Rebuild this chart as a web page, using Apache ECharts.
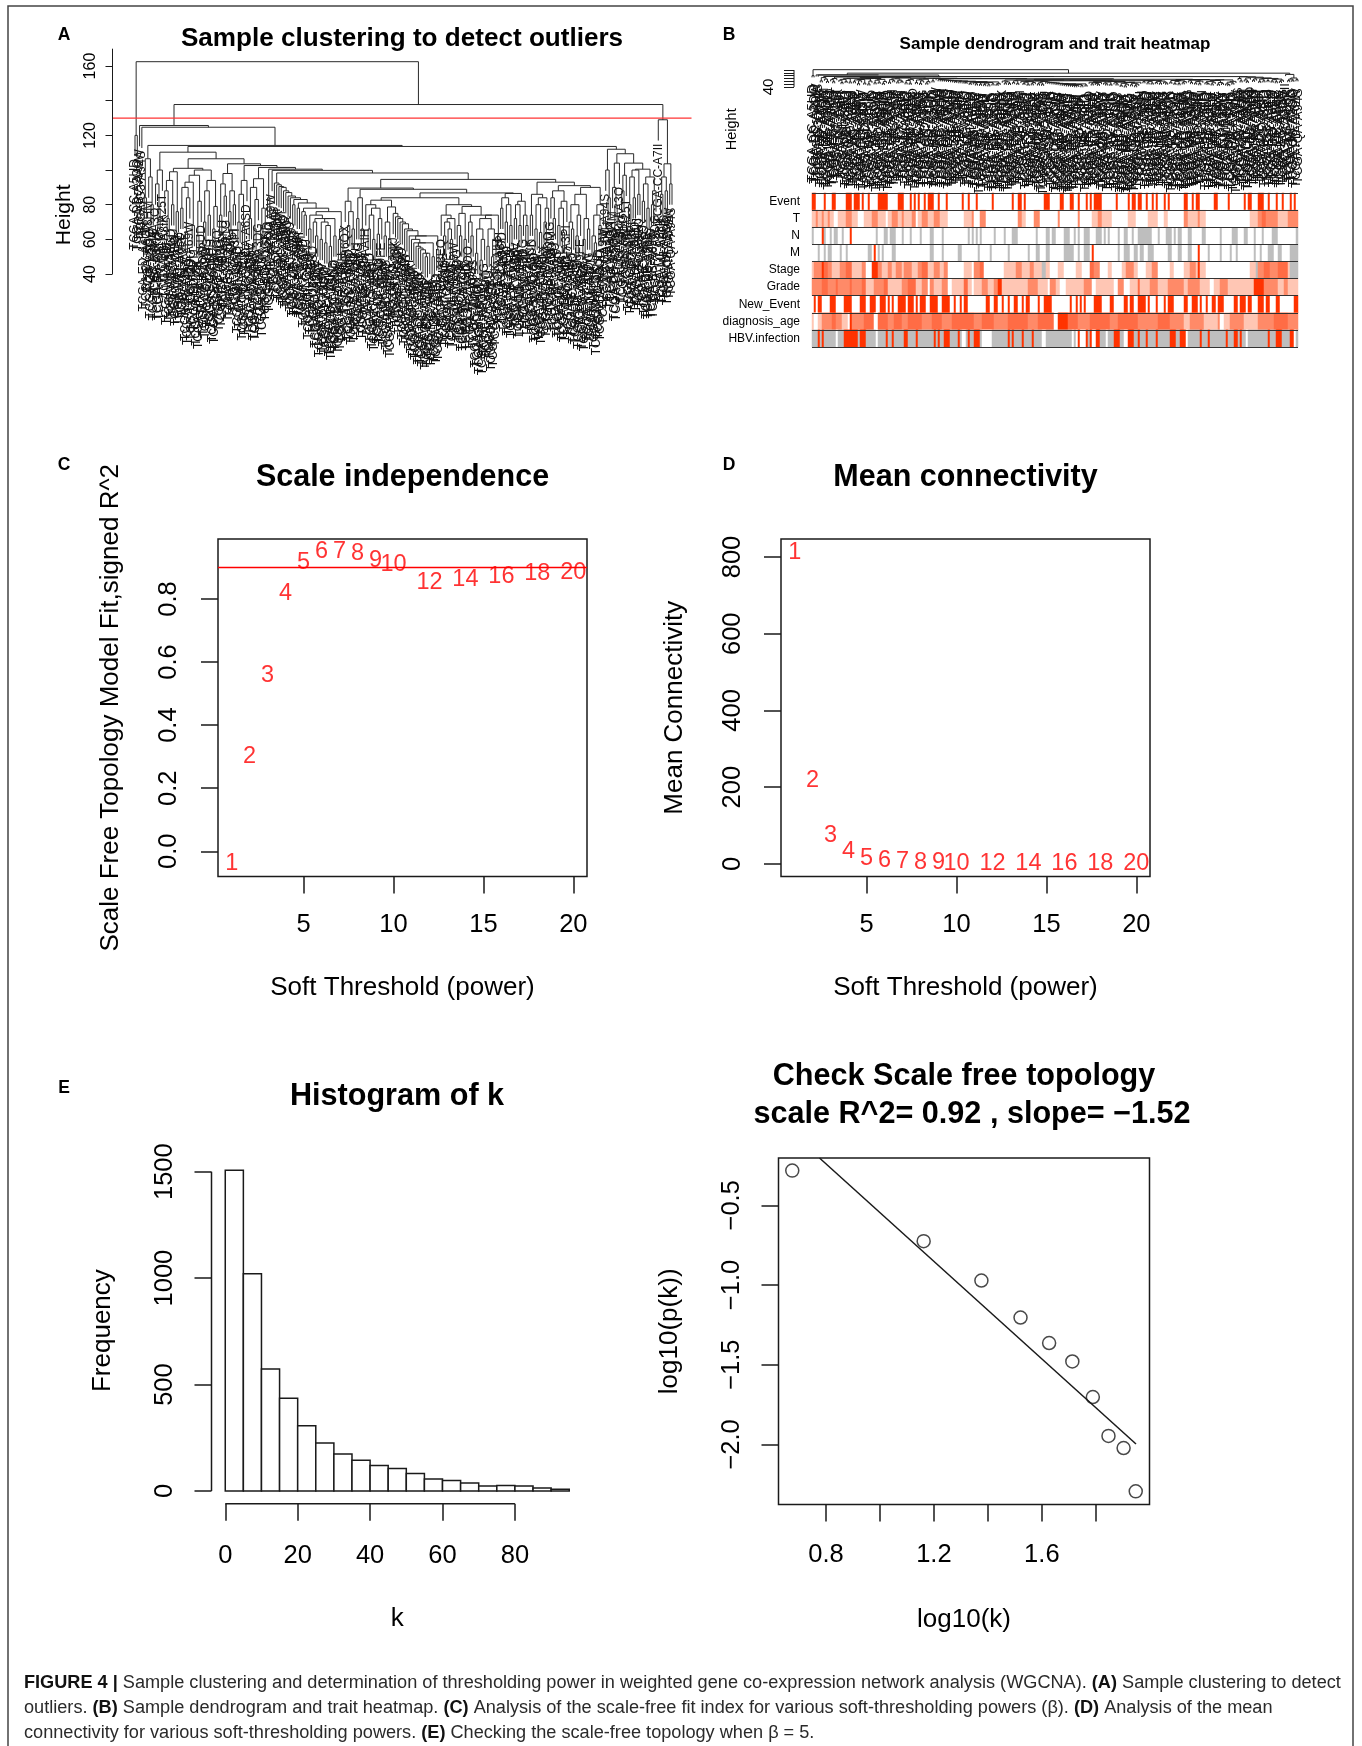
<!DOCTYPE html>
<html><head><meta charset="utf-8">
<style>html,body{margin:0;padding:0;background:#fff}#c{width:1362px;height:1746px}</style>
<script src="https://cdn.jsdelivr.net/npm/echarts@6/dist/echarts.min.js"></script>
</head><body><div id="c"></div>
<script>
// ---------- Panel C / D ----------
const powers = [1,2,3,4,5,6,7,8,9,10,12,14,16,18,20];
const fitR2 = [-0.04,0.30,0.556,0.816,0.914,0.949,0.95,0.944,0.921,0.91,0.852,0.863,0.87,0.88,0.885];
const meanK = [813,216,75,32,15,8,5,3.5,2.5,2,1,0.6,0.4,0.3,0.2];
const r2Cut = 0.9;
// ---------- Panel E left ----------
const binEdges = [0,5,10,15,20,25,30,35,40,45,50,55,60,65,70,75,80,85,90,95];
const binCounts = [1507,1021,573,436,307,226,174,144,120,106,82,57,50,38,24,26,24,14,8];
// ---------- Panel E right ----------
const logK = [0.675,1.162,1.376,1.521,1.627,1.713,1.789,1.847,1.903,1.948];
const logPk = [-0.282,-0.725,-0.972,-1.204,-1.364,-1.48,-1.703,-1.947,-2.023,-2.295];
const fitLine = [[0.776,-0.203],[1.949,-1.998]];
// ---------- Panel A / B dendrogram: merge height between each pair of neighbouring leaves ----------
const adjHeights = [
 120,162.5,125.7,124.7,84,106.5,96,80, 114.2,
 92,78,100, 110.3,
 88,72,94,80,99,76, 101,
 78,90,64,84,93,68,97,62,82,100,70,88,74,94,66,79, 106.5,
 74,92,85,98,76,88,80, 103.6,
 70,86,67,94, 102.6,
 72,90,66,83,95,68,78, 101.5,
 84, 100.5, 99.8,
 92.5,91.5,90.5,90,88,87,85,84,80,83,78,81,76,74,78,66,74,70,62,72,60,70,58,68,56,72,62,76,60,66, 98.3,
 82,68,76,66, 89.6,
 72,84,66, 88.9,
 80,66,74,60,78,63,72, 82.6,
 62,70,60, 78.7,
 75,73,72,70,69,66,65,62,60,58,56,55,54,52,50,52,58,50,62,54, 84,
 74,62,70,66,60,72,80,68,62,75,60,79,70,62,74,52,66,48,60,72,56,66,50,60,74, 86.8,
 78,84,70,80,68, 86.5,
 72,80,68,82,74,68, 94.6,
 74,86,66,80,64,84,70,78, 93,
 84,72,88,68,78,64,82,91,70,66,80,62,74,86,60,72,66,90,62,58,74,68,80, 113.6,
 100,84, 112,
 90,80,104, 109.4,
 88,97, 104,
 80,96,84,100,86, 100.5,
 82,92,78,96,80,88, 137.8,
 129,
 86,96,88,103.6,92
];
const cutHeight = 130;
const tssCodes = ['CC','DD','BC','G3','ED','2Y','RC','ZP','UB','XR','ES','FV','K7','LG','MI','NI','O8','PD','QA','WQ','5C','T1','2V','4R','DD','CC','BD','GJ','HP','KR','YA'];
const idCodes = ['A5UD','A3DG','A9FE','A4NJ','A8IK','AA3O','A6QX','A2OO','A7IJ','A56V','A3EQ','AAIH','A5KU','A8HM','AA9W','A28K','A4AG','A7L9','A3PI','AA1G','A5OQ','A94S','A1CK','A69W','A6SD','A8GD','A25T','A3MG','A1HH'];
// ---------- Panel B trait heatmap: colour-run change points read along each strip (left crop | right crop) ----------
const traitNames = ['Event','T','N','M','Stage','Grade','New_Event','diagnosis_age','HBV.infection'];
const eventRuns = "10r 22w 47r 56w 72r 85w 113r 130w 140r 155w 160r 170w 183r 187w 208r 238w 270r 280w 283r 287w 308r 312w 318r 325w 332r 338w 346r 353w 362r 378w 390r 395w 415r 423w 462r 468w 478r 485w 507r 510w 552r 560w 568r 572w 582r 585w 610r 618w 632r 640w 650r 655w 676r 680w 706r 718w 722r 728w|8r 18w 40r 48w 65r 68w 86r 95w 100r 105w 113r 120w 124r 132w 178r 183w 198r 203w 210r 216w 225r 235w 243r 252w 268r 272w 283r 290w 296r 302w 322r 326w 333r 338w 348r 352w 378r 392w 402r 408w 414r 426w 472r 480w 513r 520w 562r 567w 575r 582w 600r 612w 616r 622w 630r 640w 655r 662w 675r 680w 698r 704w 710r 716w";
const tRuns = "10l 22m 28l 40m 46l 60m 68l 76w 90l 113m 135l 150w 170l 195m 210l 235w 238l 255m 268l 280m 290l 310m 322w 330l 345m 358l 380m 395l 420w 470l 490m 500w 515m 532w 630m 640l 655w 680m 695w|5m 10w 60m 70w 105l 120m 135l 165w 215l 235w 275l 300m 305w 320l 335w 380m 395l 420m 430l 445w 580l 600m 615s 625m 660l 690m 720w";
const nRuns = "12g 20w 42r 46w 50g 56w 65g 72w 78g 88w 100g 108w 125r 130w 166r 170w 205g 212w 230g 240w 248g 262w 282g 290w 305g 312w 335g 340w 365g 378w 405g 410w 430g 435w 460g 465w 478g 485w 492g 498w 505g 510w 518g 525w 560g 565w 590g 595w 615g 628w 685g 690w 715g 725w 735g 742w|20g 30w 35g 40w 50g 58w 65g 70w 82g 98w 115g 135w 140g 145w 155g 160w 180g 190w 198g 215w 225g 232w 245g 285w 305g 310w 325g 345w 350g 355w 360g 375w 395g 402w 435g 448w 488g 495w 525g 545w 560g 570w 590g 595w 615g 620w 645g 660w 690g 695w 718g 730w";
const mRuns = "16g 20w 30g 34w 48g 52w 60g 72w 95g 100w 116g 122w 183g 193w 200r 204w 212g 215w 222g 228w 250g 262w 368g 378w 403g 408w 430g 435w 452g 465w 490g 495w 510g 515w 545g 555w 580g 585w 600g 605w 628r 632w 660g 665w 685g 695w 715g 725w|20g 30w 35g 48w 62g 70w 80g 98w 102r 108w 180g 190w 198g 218w 232g 240w 250g 258w 270g 288w 335g 345w 360g 375w 395g 402w 422r 426w 450g 458w 490g 495w 520g 525w 535g 545w 590g 595w 610g 615w 630g 650w 665g 675w 700g 720w";
const stageRuns = "10l 20m 40r 48s 60m 75l 95m 115s 135l 160m 175w 195r 208m 225l 240m 250l 265m 285l 290m 310l 330m 345s 360l 378m 395l 410m 420w 470l 495w 500m 515s 530w 590l 625m 640w 645l 665m 680l 700g 712l 725w|5l 18w 58l 72w 100s 108m 130w 150l 165w 195l 205m 230l 245w 265l 285m 305w 340l 350w 380l 400m 415l 425r 430l 445w 580l 598g 605m 622s 640m 665s 690l 700g 720w";
const gradeRuns = "10m 40s 60m 85s 92m 125s 135m 160s 175l 200m 230s 240l 280m 300s 322l 345m 360w 365m 380l 400m 420w 430l 470s 480l 495w 500l 520m 540l 560m 570r 582l 630w 632l 660m 690l 720w 725m 745l|0l 10w 25l 80m 105w 115l 170w 185m 200w 220l 240s 250l 280m 300l 335m 380l 395m 430l 460w 470l 490m 510l 588r 620m 660l 680m 695l 725w";
const newEventRuns = "10r 14w 18r 26w 30r 34w 38r 42w 46r 50w 58r 62w 68r 84w 110r 135w 158r 172w 186r 202w 218r 232w 240r 245w 252r 258w 270r 295w 298r 318w 322r 330w 336r 342w 345r 352w 365r 388w 405r 428w 440r 445w 455r 460w 470r 478w 535r 545w 560r 572w 585r 590w 598r 606w 618r 628w 640r 648w 655r 668w 690r 695w 710r 720w 722r 730w|0r 5w 40r 46w 55r 60w 68r 75w 80r 88w 108r 120w 125r 135w 160r 170w 198r 210w 218r 232w 245r 265w 270r 280w 295r 305w 320r 325w 335r 352w 378r 395w 402r 420w 428r 435w 445r 450w 465r 478w 485r 500w 530r 545w 550r 565w 572r 582w 600r 618w 628r 640w 655r 670w 690r 695w 712r 725w";
const ageRuns = "10l 20w 30l 45m 70s 85m 100l 120w 125r 130m 170s 200w 208s 240m 260s 280m 300s 340m 370s 400m 430s 500m 520s 560m 600s 660m 690s 740w|0r 30s 60m 100s 160m 180s 240m 300s 340m 380l 400m 440l 480m 490w 500l 520m 560l 600m 650s 690m 720w";
const hbvRuns = "10g 16w 18g 28w 32r 36g 42r 48w 50g 58r 62g 85w 92g 110r 118g 122r 148g 158r 175g 205w 212g 232r 240g 250r 256g 290r 300g 325r 330g 378r 384g 392r 398g 410r 425g 448r 455g 460w 475g 480r 486g 498r 515g 525w 555g 575r 578g 600r 604g 615r 620g 645r 650g 675r 680g 700w 712g 718r 722g|0g 45w 50g 55w 65r 70w 85r 90g 100r 105w 115r 128g 145w 155g 168r 190g 200w 215r 230g 240r 250g 268r 275g 295r 300g 340r 358g 370r 385w 392g 430r 436g 450r 460g 505r 512g 530r 540g 550r 555g 565w 575g 600r 605g 630r 640g 658r 675g 700r 708w 715g";
const traitRunRows = [eventRuns,tRuns,nRuns,mRuns,stageRuns,gradeRuns,newEventRuns,ageRuns,hbvRuns];
const LEVELS = {w:0,l:1,m:2,s:3,r:4,g:5};
const COLS_LEFT = 123, COLS = 243;

function decodeRow(str){
  const out = new Array(COLS).fill(0);
  str.split('|').forEach((part,k)=>{
    const base = k===0?0:COLS_LEFT, off = k===0?10:0;
    const toks = part.trim().split(/\s+/).map(t=>[parseInt(t,10),t.slice(-1)]);
    toks.forEach((t,i)=>{
      const a = base+Math.floor((t[0]-off)/6);
      const b = i+1<toks.length ? base+Math.floor((toks[i+1][0]-off)/6) : (k===0?COLS_LEFT:COLS);
      for(let c=Math.max(a,0);c<Math.min(Math.max(b,a+1),COLS);c++) out[c]=LEVELS[t[1]];
    });
  });
  return out;
}
const heatData=[];
traitRunRows.forEach((r,row)=>decodeRow(r).forEach((v,col)=>heatData.push([col,row,v])));

// tree from neighbouring merge heights
const N = adjHeights.length+1;
const HANG = 12;
const links=[], leafH=new Array(N).fill(0);
(function build(lo,hi){
  if(lo===hi) return {x:lo,h:null,leaf:lo};
  let idx=lo; for(let i=lo;i<hi;i++) if(adjHeights[i]>adjHeights[idx]) idx=i;
  const L=build(lo,idx), R=build(idx+1,hi), h=adjHeights[idx];
  if(L.leaf!==undefined) leafH[L.leaf]=h-HANG;
  if(R.leaf!==undefined) leafH[R.leaf]=h-HANG;
  links.push([L.x,R.x,h,L.h===null?h-HANG:L.h,R.h===null?h-HANG:R.h]);
  return {x:(L.x+R.x)/2,h};
})(0,N-1);
const sampleIds = leafH.map((_,i)=>'TCGA-'+tssCodes[i%tssCodes.length]+'-'+idCodes[(i*7)%idCodes.length]);
sampleIds[0]='TCGA-CC-A5UD'; sampleIds[N-7]='TCGA-CC-A7II';
const leafData = leafH.map((h,i)=>[i,h]);

const FONT='"Liberation Sans",Arial,sans-serif', INK='#1a1a1a';
const chart = echarts.init(document.getElementById('c'),null,{renderer:'canvas'});

function T(text,x,y,size,weight){
  return {text,left:x,top:y,padding:0,textAlign:'center',textVerticalAlign:'middle',
    textStyle:{fontFamily:FONT,fontSize:size,fontWeight:weight||'normal',color:'#000'}};
}
const CAP=18.15;
function capLine(text,y){
  return {text,left:24,top:y,padding:0,textVerticalAlign:'middle',
    textStyle:{fontFamily:FONT,fontSize:CAP,fontWeight:'normal',color:'#2a2a2a',rich:{b:{fontFamily:FONT,fontSize:CAP,fontWeight:'bold',color:'#111'}}}};
}
const title=[
  T('Sample clustering to detect outliers',402,39,26.1,'bold'),
  T('Sample dendrogram and trait heatmap',1055,44,17,'bold'),
  T('Scale independence',402.5,478,30.5,'bold'),
  T('Mean connectivity',965.5,478,30.5,'bold'),
  T('Histogram of k',397,1096.5,30.6,'bold'),
  T('Check Scale free topology',964,1076.5,30.6,'bold'),
  T('scale R^2= 0.92 , slope= \u22121.52',972,1114.5,30.6,'bold'),
  T('A',64,35,17.5,'bold'),T('B',729,35,17.5,'bold'),T('C',64,465,17.5,'bold'),T('D',729,465,17.5,'bold'),T('E',64,1088,17.5,'bold'),
  capLine('{b|FIGURE 4 |} Sample clustering and determination of thresholding power in weighted gene co-expression network analysis (WGCNA). {b|(A)} Sample clustering to detect',1683),
  capLine('outliers. {b|(B)} Sample dendrogram and trait heatmap. {b|(C)} Analysis of the scale-free fit index for various soft-thresholding powers (\u03b2). {b|(D)} Analysis of the mean',1708),
  capLine('connectivity for various soft-thresholding powers. {b|(E)} Checking the scale-free topology when \u03b2 = 5.',1733)
];

const grid=[
  {left:112.5,width:579,top:48.7,height:332.3},               // 0 A
  {left:794,width:504,top:68.6,height:121.4},                 // 1 B dendro
  {left:812,width:486,top:193,height:154},                    // 2 B heat
  {left:218,width:369,top:539,height:337.5,show:true,borderColor:INK,borderWidth:1.5,backgroundColor:'transparent'}, // 3 C
  {left:781,width:369,top:539,height:337.5,show:true,borderColor:INK,borderWidth:1.5,backgroundColor:'transparent'}, // 4 D
  {left:211.5,width:371.5,top:1157.4,height:346.4},           // 5 E left
  {left:778.5,width:371,top:1158,height:346.6,show:true,borderColor:INK,borderWidth:1.5,backgroundColor:'transparent'} // 6 E right
];
function vAxis(g,o){
  return {type:'value',gridIndex:g,min:o.min,max:o.max,name:o.name,nameLocation:'middle',nameGap:o.gap,
    nameTextStyle:{fontFamily:FONT,fontSize:o.nameSize||26,color:'#000'},
    axisLine:{show:false,onZero:false},splitLine:{show:false},
    axisTick:{show:true,length:o.tickLen||17,customValues:o.ticks,lineStyle:{color:INK,width:o.tickW||1.5}},
    axisLabel:{show:true,customValues:o.labels,margin:o.margin,rotate:o.rotate||0,fontFamily:FONT,fontSize:o.size||25.5,color:'#000',
      formatter:o.fmt||(v=>String(v))}};
}
function hidden(g,min,max){return {type:'value',gridIndex:g,min,max,show:false,axisLine:{onZero:false},splitLine:{show:false}};}
const neg=(d)=>v=>(v<0?'\u2212':'')+Math.abs(v).toFixed(d);

const ppA=537/(N-1), ppB=486/(N-1);
const xAxis=[
  hidden(0,-22.5/ppA,N-1+19.5/ppA),
  hidden(1,-18/ppB,N-1),
  {type:'category',gridIndex:2,show:false,data:Array.from({length:COLS},(_,i)=>i)},
  vAxis(3,{min:0.24,max:20.76,name:'Soft Threshold (power)',gap:98,ticks:[5,10,15,20],labels:[5,10,15,20],margin:35}),
  vAxis(4,{min:0.24,max:20.76,name:'Soft Threshold (power)',gap:98,ticks:[5,10,15,20],labels:[5,10,15,20],margin:35}),
  vAxis(5,{min:-3.8,max:98.8,name:'k',gap:102,ticks:[0,20,40,60,80],labels:[0,20,40,60,80],margin:39}),
  vAxis(6,{min:0.624,max:1.999,name:'log10(k)',gap:102,ticks:[0.8,1.0,1.2,1.4,1.6,1.8],labels:[0.8,1.2,1.6],margin:37,fmt:v=>v.toFixed(1)})
];
const yAxis=[
  vAxis(0,{min:-21.7,max:170,name:'Height',gap:38,nameSize:21,ticks:[40,60,80,100,120,140,160],labels:[40,60,80,120,160],tickLen:7,tickW:1,margin:14,rotate:90,size:16}),
  vAxis(1,{min:-687,max:170,name:'Height',gap:55,nameSize:14.5,ticks:[40,60,80,100,120,140,160],labels:[40],tickLen:10,tickW:1,margin:18,rotate:90,size:15}),
  {type:'category',gridIndex:2,inverse:true,data:traitNames,axisLine:{show:false},axisTick:{show:false},
    splitLine:{show:true,lineStyle:{color:'#333',width:1}},z:5,
    axisLabel:{fontFamily:FONT,fontSize:12,color:'#000',margin:12}},
  vAxis(3,{min:-0.08,max:0.99,name:'Scale Free Topology Model Fit,signed R^2',gap:94.5,ticks:[0,0.2,0.4,0.6,0.8],labels:[0,0.2,0.4,0.6,0.8],margin:36,rotate:90,fmt:v=>v.toFixed(1)}),
  vAxis(4,{min:-33,max:847,name:'Mean Connectivity',gap:93.5,ticks:[0,200,400,600,800],labels:[0,200,400,600,800],margin:35,rotate:90}),
  vAxis(5,{min:-60,max:1567,name:'Frequency',gap:96,ticks:[0,500,1000,1500],labels:[0,500,1000,1500],margin:34,rotate:90}),
  vAxis(6,{min:-2.378,max:-0.203,name:'log10(p(k))',gap:96,ticks:[-0.5,-1,-1.5,-2],labels:[-0.5,-1,-1.5,-2],margin:34,rotate:90,fmt:neg(1)})
];

function linkSeries(g,color){
  return {type:'custom',xAxisIndex:g,yAxisIndex:g,silent:true,data:links,z:3,
    renderItem:(p,api)=>{
      const a=api.coord([api.value(0),api.value(3)]),b=api.coord([api.value(0),api.value(2)]),
            c=api.coord([api.value(1),api.value(2)]),d=api.coord([api.value(1),api.value(4)]);
      return {type:'polyline',shape:{points:[a,b,c,d]},style:{stroke:color,lineWidth:1,fill:null}};
    }};
}
function leafSeries(g,size,gap){
  return {type:'custom',xAxisIndex:g,yAxisIndex:g,silent:true,data:leafData,z:2,
    renderItem:(p,api)=>{
      const c=api.coord([api.value(0),api.value(1)]);
      return {type:'text',x:c[0],y:c[1]+gap,rotation:Math.PI/2,
        style:{text:sampleIds[p.dataIndex],font:size+'px '+FONT,align:'right',verticalAlign:'middle',fill:'#111'}};
    }};
}
function labelSeries(g,ys){
  return {type:'scatter',xAxisIndex:g,yAxisIndex:g,data:powers.map((p,i)=>[p,ys[i]]),symbolSize:1,clip:false,silent:true,z:4,
    itemStyle:{color:'transparent'},
    label:{show:true,position:'inside',formatter:q=>String(q.data[0]),fontFamily:FONT,fontSize:23.5,color:'#f00'}};
}
function seg(g,data,color,w){
  return {type:'line',xAxisIndex:g,yAxisIndex:g,data,symbol:'none',silent:true,clip:false,z:4,lineStyle:{color,width:w}};
}
const series=[
  // A
  leafSeries(0,12,3),
  linkSeries(0,'#2a2a2a'),
  seg(0,[[-22.5/ppA,cutHeight],[N-1+19.5/ppA,cutHeight]],'#f33',1.2),
  seg(0,[[-22.5/ppA,40],[-22.5/ppA,170]],INK,1),
  // B
  leafSeries(1,13,7),
  linkSeries(1,'#222'),
  seg(1,[[-18/ppB,40],[-18/ppB,160]],INK,1),
  {type:'heatmap',xAxisIndex:2,yAxisIndex:2,data:heatData,silent:true,progressive:0,z:2},
  // C
  seg(3,[[0.24,r2Cut],[20.76,r2Cut]],'#f00',1.5),
  labelSeries(3,fitR2),
  // D
  labelSeries(4,meanK),
  // E left
  {type:'custom',xAxisIndex:5,yAxisIndex:5,silent:true,z:3,
    data:binCounts.map((c,i)=>[binEdges[i],binEdges[i+1],c]),
    renderItem:(p,api)=>{
      const a=api.coord([api.value(0),api.value(2)]),b=api.coord([api.value(1),0]);
      return {type:'rect',shape:{x:a[0],y:a[1],width:b[0]-a[0],height:b[1]-a[1]},style:{fill:'#fff',stroke:INK,lineWidth:1.5}};
    }},
  seg(5,[[0,-60],[80,-60]],INK,1.5),
  seg(5,[[-3.8,0],[-3.8,1500]],INK,1.5),
  // E right
  seg(6,fitLine,INK,1.5),
  {type:'scatter',xAxisIndex:6,yAxisIndex:6,data:logK.map((x,i)=>[x,logPk[i]]),silent:true,clip:false,z:4,symbol:'circle',symbolSize:13,
    itemStyle:{color:'transparent',borderColor:INK,borderWidth:1.5}}
];
chart.setOption({
  animation:false,backgroundColor:'#fff',title,grid,xAxis,yAxis,series,
  visualMap:{type:'piecewise',show:false,seriesIndex:7,dimension:2,
    pieces:[{value:0,color:'#ffffff'},{value:1,color:'#FFC6B4'},{value:2,color:'#FF8A68'},{value:3,color:'#FF6C45'},{value:4,color:'#FF3300'},{value:5,color:'#BEBEBE'}]},
  graphic:[{type:'rect',silent:true,z:-1,shape:{x:8,y:6,width:1345,height:1770},style:{fill:null,stroke:'#444',lineWidth:1.5}}]
});
</script></body></html>
